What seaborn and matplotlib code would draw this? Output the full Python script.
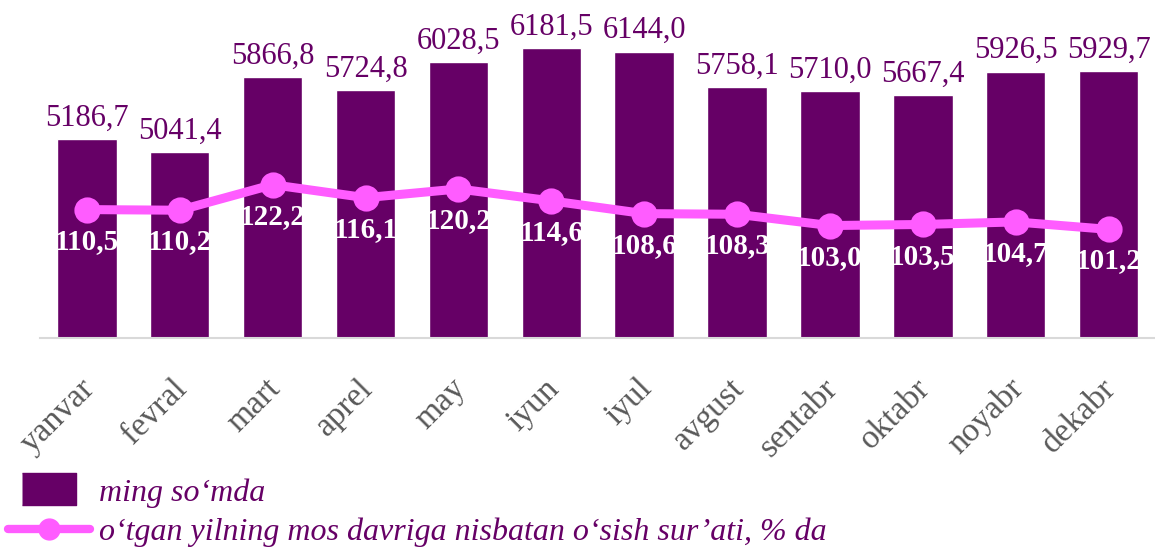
import matplotlib
matplotlib.use('Agg')
import matplotlib.pyplot as plt
import matplotlib.transforms as mtransforms
import seaborn as sns
import pandas as pd
from matplotlib.lines import Line2D

# Data
months = ['yanvar', 'fevral', 'mart', 'aprel', 'may', 'iyun',
          'iyul', 'avgust', 'sentabr', 'oktabr', 'noyabr', 'dekabr']
amount = [5186.7, 5041.4, 5866.8, 5724.8, 6028.5, 6181.5,
          6144.0, 5758.1, 5710.0, 5667.4, 5926.5, 5929.7]
growth = [110.5, 110.2, 122.2, 116.1, 120.2, 114.6,
          108.6, 108.3, 103.0, 103.5, 104.7, 101.2]

bar_color = '#660066'
line_color = '#FF5CFF'

df = pd.DataFrame({'month': months, 'amount': amount, 'growth': growth})

sns.set_style('white')
plt.rcParams['font.family'] = ['Liberation Serif', 'DejaVu Serif']

fig = plt.figure(figsize=(11.55, 5.5), dpi=100)
ax = fig.add_axes([0.035, 0.385, 0.965, 0.58])

sns.barplot(data=df, x='month', y='amount', color=bar_color, width=0.64,
            saturation=1, ax=ax)
ax.set_ylim(3000, 6500)
ax.set_xlim(-0.5, 11.5)

for i, v in enumerate(amount):
    ax.text(i, v + 70, f'{v:.1f}'.replace('.', ','), ha='center', va='bottom',
            fontsize=22, color=bar_color)

ax2 = ax.twinx()
sns.pointplot(data=df, x='month', y='growth', color=line_color,
              markersize=14, linewidth=6.5, ax=ax2)
ax2.set_ylim(50, 200)
ax2.set_xlim(-0.5, 11.5)

for i, v in enumerate(growth):
    ax2.text(i, v - 8.5, f'{v:.1f}'.replace('.', ','), ha='center', va='top',
             fontsize=21, fontweight='bold', color='white')

for a in (ax, ax2):
    a.set_xlabel('')
    a.set_ylabel('')
    a.set_yticks([])
    for s in ('top', 'left', 'right'):
        a.spines[s].set_visible(False)
ax.spines['bottom'].set_color('#d9d9d9')
ax.spines['bottom'].set_linewidth(1.5)
ax2.spines['bottom'].set_visible(False)

# rotated month labels, pushed down and a little to the left
ax.tick_params(axis='x', length=0, pad=25)
ax.set_xticks(range(len(months)))
ax.set_xticklabels(months, rotation=45, ha='right', rotation_mode='anchor',
                   fontsize=24, color='#595959')
shift = mtransforms.ScaledTranslation(-8 / 100, 0, fig.dpi_scale_trans)
for lab in ax.get_xticklabels():
    lab.set_transform(lab.get_transform() + shift)

rect = [(-1, -0.6), (1, -0.6), (1, 0.6), (-1, 0.6)]
handles = [
    Line2D([0], [0], color=bar_color, marker=rect, markersize=39, linestyle='none'),
    Line2D([0], [0], color=line_color, lw=6, marker='o', markersize=15),
]
labels = ['ming so\u2018mda', 'o\u2018tgan yilning mos davriga nisbatan o\u2018sish sur\u2019ati, % da']
leg = fig.legend(handles, labels, loc='lower left', bbox_to_anchor=(0.007, 0.006),
                 frameon=False, prop={'style': 'italic', 'size': 23},
                 handlelength=2.55, handletextpad=0.3,
                 labelspacing=0.3, borderaxespad=0, borderpad=0)
for t in leg.get_texts():
    t.set_color(bar_color)

fig.savefig('out.png', dpi=100)
